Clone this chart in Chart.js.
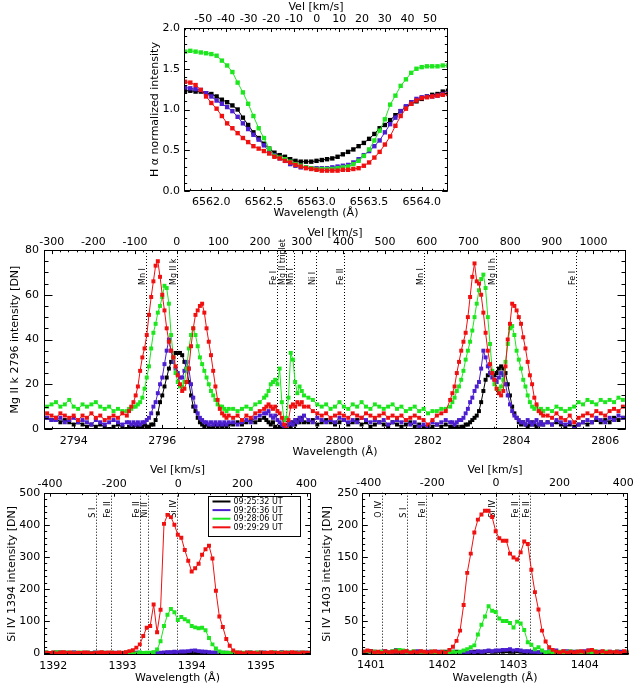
<!DOCTYPE html>
<html>
<head>
<meta charset="utf-8">
<title>H-alpha, Mg II and Si IV spectra</title>
<script src="https://cdn.jsdelivr.net/npm/chart.js@4.4.1/dist/chart.umd.min.js"></script>
<style>
  html, body { margin: 0; padding: 0; background: #ffffff; }
  #page { position: relative; width: 633px; height: 689px; overflow: hidden; }
  #page canvas { position: absolute; left: 0; top: 0; }
</style>
</head>
<body>
<div id="page">
  <canvas id="haChart" width="633" height="689"></canvas>
  <canvas id="mgChart" width="633" height="689"></canvas>
  <canvas id="si1Chart" width="633" height="689"></canvas>
  <canvas id="si2Chart" width="633" height="689"></canvas>
</div>
<script>
// ---- series (same four times in every panel) ----
const seriesNames = ['09:25:32 UT', '09:26:36 UT', '09:28:06 UT', '09:29:29 UT'];
const seriesColors = ['#000000', '#4b1ecf', '#1ee61e', '#f01010'];

// ---- H alpha ----
const haWave = [6561.75, 6561.80, 6561.85, 6561.90, 6561.95, 6562.00, 6562.05, 6562.10, 6562.15, 6562.20,
  6562.25, 6562.30, 6562.35, 6562.40, 6562.45, 6562.50, 6562.55, 6562.60, 6562.65, 6562.70,
  6562.75, 6562.80, 6562.85, 6562.90, 6562.95, 6563.00, 6563.05, 6563.10, 6563.15, 6563.20,
  6563.25, 6563.30, 6563.35, 6563.40, 6563.45, 6563.50, 6563.55, 6563.60, 6563.65, 6563.70,
  6563.75, 6563.80, 6563.85, 6563.90, 6563.95, 6564.00, 6564.05, 6564.10, 6564.15, 6564.20, 6564.25];
const haBlack = [1.23, 1.23, 1.22, 1.22, 1.20, 1.19, 1.16, 1.12, 1.09, 1.05, 1.00, 0.90, 0.81, 0.72, 0.65, 0.58, 0.52,
  0.47, 0.44, 0.42, 0.39, 0.37, 0.36, 0.36, 0.36, 0.37, 0.38, 0.39, 0.40, 0.42, 0.45, 0.48, 0.51, 0.55,
  0.59, 0.64, 0.70, 0.77, 0.81, 0.87, 0.93, 0.98, 1.03, 1.07, 1.10, 1.13, 1.16, 1.18, 1.19, 1.22, 1.23];
const haBlue = [1.27, 1.26, 1.25, 1.24, 1.20, 1.16, 1.11, 1.07, 1.03, 0.98, 0.91, 0.83, 0.76, 0.69, 0.63, 0.56, 0.49,
  0.44, 0.40, 0.37, 0.33, 0.31, 0.29, 0.29, 0.28, 0.28, 0.28, 0.28, 0.29, 0.30, 0.31, 0.32, 0.35, 0.39,
  0.44, 0.49, 0.55, 0.62, 0.72, 0.82, 0.90, 0.98, 1.04, 1.09, 1.13, 1.15, 1.16, 1.16, 1.17, 1.19, 1.20];
const haGreen = [1.71, 1.72, 1.71, 1.70, 1.69, 1.68, 1.66, 1.60, 1.54, 1.46, 1.33, 1.21, 1.07, 0.92, 0.77, 0.65, 0.52,
  0.43, 0.41, 0.39, 0.36, 0.33, 0.31, 0.29, 0.28, 0.27, 0.27, 0.27, 0.27, 0.28, 0.29, 0.30, 0.33, 0.37,
  0.43, 0.51, 0.62, 0.74, 0.88, 1.06, 1.17, 1.29, 1.37, 1.45, 1.50, 1.52, 1.53, 1.53, 1.53, 1.54, 1.54];
const haRed = [1.34, 1.33, 1.30, 1.24, 1.16, 1.08, 1.01, 0.92, 0.83, 0.77, 0.71, 0.65, 0.60, 0.55, 0.52, 0.49, 0.46,
  0.42, 0.40, 0.37, 0.35, 0.32, 0.30, 0.28, 0.27, 0.26, 0.25, 0.25, 0.25, 0.25, 0.26, 0.26, 0.27, 0.28,
  0.31, 0.35, 0.41, 0.48, 0.57, 0.67, 0.80, 0.92, 1.01, 1.07, 1.11, 1.14, 1.15, 1.16, 1.17, 1.18, 1.19];
const haTicks = [6562.0, 6562.5, 6563.0, 6563.5, 6564.0];
const haVelTicks = [-50, -40, -30, -20, -10, 0, 10, 20, 30, 40, 50];
const haYTicks = [0, 0.5, 1.0, 1.5, 2.0];

// ---- Mg II h & k ----
const mgWave = [2793.4, 2793.5, 2793.6, 2793.7, 2793.8, 2793.9, 2794.0, 2794.1, 2794.2, 2794.3,
  2794.4, 2794.5, 2794.6, 2794.7, 2794.8, 2794.9, 2795.0, 2795.1, 2795.2,
  2795.25, 2795.30, 2795.35, 2795.40, 2795.45, 2795.50, 2795.55, 2795.60, 2795.65, 2795.70,
  2795.75, 2795.80, 2795.85, 2795.90, 2795.95, 2796.00, 2796.05, 2796.10, 2796.15, 2796.20,
  2796.25, 2796.30, 2796.35, 2796.40, 2796.45, 2796.50, 2796.55, 2796.60, 2796.65, 2796.70,
  2796.75, 2796.80, 2796.85, 2796.90, 2796.95, 2797.00, 2797.05, 2797.10, 2797.15, 2797.20,
  2797.25, 2797.30, 2797.35, 2797.40, 2797.45, 2797.50,
  2797.6, 2797.7, 2797.8, 2797.9, 2798.0, 2798.1, 2798.2, 2798.3,
  2798.35, 2798.40, 2798.45, 2798.50, 2798.55, 2798.60, 2798.65, 2798.70, 2798.75, 2798.80,
  2798.85, 2798.90, 2798.95, 2799.00, 2799.05, 2799.10, 2799.15, 2799.20,
  2799.3, 2799.4, 2799.5, 2799.6, 2799.7, 2799.8, 2799.9, 2800.0, 2800.1, 2800.2,
  2800.3, 2800.4, 2800.5, 2800.6, 2800.7, 2800.8, 2800.9, 2801.0, 2801.1, 2801.2,
  2801.3, 2801.4, 2801.5, 2801.6, 2801.7, 2801.8, 2801.9, 2802.0, 2802.1, 2802.2,
  2802.3, 2802.4, 2802.5,
  2802.55, 2802.60, 2802.65, 2802.70, 2802.75, 2802.80, 2802.85, 2802.90, 2802.95, 2803.00,
  2803.05, 2803.10, 2803.15, 2803.20, 2803.25, 2803.30, 2803.35, 2803.40, 2803.45, 2803.50,
  2803.55, 2803.60, 2803.65, 2803.70, 2803.75, 2803.80, 2803.85, 2803.90, 2803.95, 2804.00,
  2804.05, 2804.10, 2804.15, 2804.20, 2804.25, 2804.30, 2804.35, 2804.40, 2804.45, 2804.50,
  2804.55, 2804.60,
  2804.7, 2804.8, 2804.9, 2805.0, 2805.1, 2805.2, 2805.3, 2805.4, 2805.5, 2805.6,
  2805.7, 2805.8, 2805.9, 2806.0, 2806.1, 2806.2, 2806.3, 2806.4];
const mgBlack = [5, 4, 5, 3, 4, 3, 2, 3, 2, 1, 2, 1, 2, 1, 0, 1, 2, 1, 0,
  1, 0, 1, 2, 1, 0, 1, 2, 1, 1, 2, 2, 4, 7, 12, 15, 19, 23, 27, 30, 32, 34, 34, 34, 33,
  30, 27, 21, 15, 10, 8, 5, 3, 2, 1, 2, 1, 0, 1, 2, 1, 2, 1, 2, 1, 2,
  2, 3, 2, 3, 4, 3, 4, 5,
  4, 3, 2, 3, 1, 0, 1, 0, 1, 0, 2, 1, 3, 2, 4, 3, 5, 3,
  3, 4, 2, 3, 4, 3, 2, 3, 4, 2, 3, 4, 2, 3, 1, 2, 3, 2, 1, 3, 2, 1, 2, 3, 1, 2, 1, 0, 1, 2, 1, 2, 1,
  1, 0, 1, 0, 1, 1, 2, 2, 3, 4, 5, 6, 8, 12, 17, 22, 24, 25, 25, 24, 25, 27, 28, 27, 25,
  20, 15, 10, 7, 5, 3, 2, 3, 2, 1, 2, 3, 2, 1, 2, 3, 2,
  3, 2, 3, 2, 1, 2, 1, 2, 3, 2, 3, 4, 3, 4, 3, 5, 4, 5];
const mgBlue = [5, 4, 4, 5, 3, 4, 5, 3, 4, 3, 2, 4, 3, 2, 3, 4, 3, 2, 3,
  3, 2, 3, 2, 3, 2, 3, 3, 4, 5, 7, 10, 12, 16, 20, 23, 29, 35, 40, 35, 30, 27, 25, 23, 23,
  26, 30, 27, 20, 14, 10, 7, 5, 4, 3, 3, 2, 3, 2, 3, 2, 3, 2, 3, 2, 3,
  3, 2, 3, 4, 3, 5, 6, 7,
  7, 8, 6, 5, 6, 4, 3, 2, 1, 0, 2, 3, 2, 4, 3, 5, 4, 6,
  4, 3, 5, 4, 3, 4, 3, 5, 4, 3, 4, 3, 5, 4, 3, 4, 3, 4, 2, 3, 4, 3, 4, 2, 3, 1, 2, 1, 3, 2, 3, 4, 3,
  3, 2, 3, 4, 4, 5, 7, 9, 12, 14, 17, 19, 21, 27, 35, 32, 28, 25, 23, 22, 21, 23, 25, 24, 20,
  15, 11, 8, 6, 5, 4, 3, 3, 2, 4, 3, 2, 3, 4, 2, 3, 2,
  3, 2, 4, 3, 2, 3, 0, 2, 3, 4, 3, 5, 4, 3, 5, 4, 6, 5];
const mgGreen = [10, 11, 12, 10, 11, 13, 10, 9, 11, 10, 11, 12, 10, 9, 10, 8, 9, 8, 8,
  9, 9, 10, 10, 11, 12, 14, 18, 23, 28, 36, 43, 47, 52, 55, 59, 64, 63, 56, 42, 32, 25, 21, 19, 19,
  21, 27, 36, 42, 45, 42, 37, 32, 29, 26, 23, 20, 17, 15, 13, 11, 10, 10, 9, 8, 9,
  9, 8, 9, 10, 9, 11, 12, 14,
  15, 17, 20, 21, 22, 20, 27, 12, 4, 5, 14, 34, 31, 21, 16, 19, 17, 15,
  14, 13, 11, 10, 11, 9, 10, 12, 10, 9, 11, 10, 12, 10, 9, 11, 10, 9, 10, 11, 9, 10, 8, 9, 10, 8, 9, 7, 8, 8, 9, 9, 10,
  12, 14, 17, 19, 22, 26, 31, 35, 39, 44, 50, 56, 62, 67, 69, 63, 50, 38, 26, 20, 18, 17, 19, 22, 30,
  38, 45, 46, 42, 35, 31, 27, 22, 19, 15, 12, 10, 9, 10, 8, 9, 8,
  9, 8, 10, 9, 8, 9, 10, 12, 11, 13, 12, 11, 13, 12, 13, 12, 14, 13];
const mgRed = [7, 6, 5, 7, 6, 5, 6, 4, 6, 5, 7, 5, 6, 4, 5, 6, 5, 7, 6,
  8, 10, 12, 15, 19, 26, 32, 36, 42, 51, 59, 66, 73, 75, 68, 60, 53, 45, 39, 35, 32, 28, 24, 20, 17,
  18, 21, 27, 37, 45, 51, 53, 55, 56, 52, 45, 39, 33, 26, 19, 13, 9, 7, 6, 5, 6,
  5, 6, 4, 6, 5, 7, 8, 9,
  10, 11, 10, 9, 10, 8, 7, 5, 2, 0, 4, 10, 11, 10, 12, 11, 12, 10,
  10, 8, 7, 6, 7, 5, 6, 7, 6, 5, 7, 6, 5, 7, 6, 5, 6, 7, 5, 6, 5, 6, 4, 5, 6, 5, 4, 2, 4, 6, 7, 8, 13,
  16, 19, 25, 30, 35, 39, 43, 50, 59, 68, 74, 66, 65, 60, 52, 43, 35, 29, 25, 22, 18, 16, 15, 17, 28,
  40, 47, 56, 55, 53, 50, 47, 41, 36, 30, 24, 20, 14, 11, 8, 7, 6,
  6, 5, 7, 5, 4, 6, 3, 5, 6, 7, 6, 8, 7, 6, 8, 9, 8, 10];
const mgTicks = [2794, 2796, 2798, 2800, 2802, 2804, 2806];
const mgVelTicks = [-300, -200, -100, 0, 100, 200, 300, 400, 500, 600, 700, 800, 900, 1000];
const mgYTicks = [0, 20, 40, 60, 80];
const mgLineWave = [2795.64, 2796.34, 2798.59, 2798.80, 2798.98, 2799.47, 2800.11, 2801.90, 2803.53, 2805.34];
const mgLineName = ['Mn I', 'Mg II k', 'Fe I', 'Mg II triplet', 'Mn I', 'Ni I', 'Fe II', 'Mn I', 'Mg II h', 'Fe I'];

// ---- Si IV 1394 ----
const si1Wave = [1391.90, 1391.95, 1392.00, 1392.05, 1392.10, 1392.15, 1392.20, 1392.25, 1392.30, 1392.35,
  1392.40, 1392.45, 1392.50, 1392.55, 1392.60, 1392.65, 1392.70, 1392.75, 1392.80, 1392.85,
  1392.90, 1392.95, 1393.00, 1393.05, 1393.10, 1393.15, 1393.20, 1393.25, 1393.30, 1393.35,
  1393.40, 1393.45, 1393.50, 1393.55, 1393.60, 1393.65, 1393.70, 1393.75, 1393.80, 1393.85,
  1393.90, 1393.95, 1394.00, 1394.05, 1394.10, 1394.15, 1394.20, 1394.25, 1394.30, 1394.35,
  1394.40, 1394.45, 1394.50, 1394.55, 1394.60, 1394.65, 1394.70, 1394.75, 1394.80, 1394.85,
  1394.90, 1394.95, 1395.00, 1395.05, 1395.10, 1395.15, 1395.20, 1395.25, 1395.30, 1395.35,
  1395.40, 1395.45, 1395.50, 1395.55, 1395.60, 1395.65, 1395.70];
const si1Black = [2, 1, 0, 1, 3, 2, 1, 0, 2, 1, 0, 1, 2, 1, 0, 2, 1, 0, 1, 2,
  1, 0, 1, 2, 0, 1, 2, 1, 0, 1, 0, 1, 2, 1, 1, 2, 2, 3, 2, 3,
  3, 4, 3, 4, 3, 2, 3, 2, 1, 2, 1, 0, 2, 1, 0, 1, 2, 0, 1, 3,
  1, 0, 2, 1, 0, 1, 2, 0, 3, 1, 0, 1, 2, 1, 0, 2, 1];
const si1Blue = [1, 0, 2, 3, 1, 0, 2, 1, 3, 0, 1, 2, 0, 1, 3, 1, 0, 2, 1, 0,
  2, 1, 0, 1, 2, 0, 1, 2, 1, 0, 1, 2, 1, 2, 3, 4, 4, 5, 4, 6,
  6, 7, 8, 9, 7, 6, 5, 4, 3, 2, 1, 2, 0, 1, 2, 0, 1, 0, 2, 1,
  0, 2, 1, 3, 1, 0, 2, 1, 3, 0, 2, 1, 0, 3, 1, 2, 0];
const si1Green = [3, 1, 2, 4, 2, 1, 3, 2, 0, 2, 3, 1, 2, 0, 2, 1, 3, 2, 1, 2,
  0, 2, 1, 3, 1, 2, 0, 3, 1, 2, 2, 4, 12, 38, 85, 120, 138, 128, 104, 113,
  106, 100, 85, 81, 78, 80, 72, 48, 28, 15, 6, 3, 1, 2, 0, 3, 1, 2, 0, 2,
  1, 3, 0, 2, 1, 2, 3, 0, 2, 1, 3, 0, 2, 1, 3, 0, 2];
const si1Red = [2, 1, 3, 0, 2, 4, 1, 3, 0, 2, 1, 3, 2, 0, 1, 2, 4, 1, 3, 2,
  1, 3, 2, 4, 7, 10, 18, 28, 54, 80, 85, 152, 66, 136, 403, 431, 424, 400, 369, 360,
  322, 288, 255, 265, 279, 307, 324, 335, 295, 195, 115, 82, 45, 24, 9, 3, 2, 0, 3, 1,
  2, 0, 3, 1, 2, 4, 1, 2, 0, 3, 1, 4, 2, 0, 3, 1, 2];
const si1Ticks = [1392, 1393, 1394, 1395];
const si1YTicks = [0, 100, 200, 300, 400, 500];
const si1LineWave = [1392.62, 1392.84, 1393.25, 1393.37, 1393.79];
const si1LineName = ['S I', 'Fe II', 'Fe II', 'Ni II', 'Si IV'];

// ---- Si IV 1403 ----
const si2Wave = [1400.90, 1400.95, 1401.00, 1401.05, 1401.10, 1401.15, 1401.20, 1401.25, 1401.30, 1401.35,
  1401.40, 1401.45, 1401.50, 1401.55, 1401.60, 1401.65, 1401.70, 1401.75, 1401.80, 1401.85,
  1401.90, 1401.95, 1402.00, 1402.05, 1402.10, 1402.15, 1402.20, 1402.25, 1402.30, 1402.35,
  1402.40, 1402.45, 1402.50, 1402.55, 1402.60, 1402.65, 1402.70, 1402.75, 1402.80, 1402.85,
  1402.90, 1402.95, 1403.00, 1403.05, 1403.10, 1403.15, 1403.20, 1403.25, 1403.30, 1403.35,
  1403.40, 1403.45, 1403.50, 1403.55, 1403.60, 1403.65, 1403.70, 1403.75, 1403.80, 1403.85,
  1403.90, 1403.95, 1404.00, 1404.05, 1404.10, 1404.15, 1404.20, 1404.25, 1404.30, 1404.35,
  1404.40, 1404.45, 1404.50, 1404.55, 1404.60];
const si2Black = [2, 1, 3, 2, 0, 1, 2, 1, 0, 2, 1, 0, 2, 1, 0, 1, 2, 0, 1, 2,
  1, 0, 1, 2, 0, 1, 2, 0, 1, 2, 1, 2, 1, 2, 2, 3, 2, 2, 3, 2,
  3, 2, 2, 3, 2, 1, 2, 1, 0, 1, 2, 0, 1, 2, 1, 0, 2, 1, 0, 1,
  2, 1, 0, 1, 2, 0, 1, 2, 1, 0, 1, 2, 0, 1, 0];
const si2Blue = [0, 1, 2, 0, 1, 2, 3, 1, 2, 5, 3, 1, 2, 0, 1, 3, 1, 0, 2, 1,
  0, 2, 1, 0, 1, 2, 0, 1, 2, 1, 2, 1, 3, 2, 3, 4, 3, 4, 4, 5,
  5, 6, 4, 5, 4, 3, 3, 2, 2, 1, 2, 1, 3, 2, 4, 1, 2, 3, 1, 2,
  0, 2, 3, 4, 2, 1, 2, 0, 1, 2, 1, 0, 2, 1, 2];
const si2Green = [1, 3, 0, 2, 1, 2, 0, 1, 3, 4, 5, 4, 2, 1, 3, 0, 2, 1, 0, 2,
  1, 0, 2, 1, 0, 2, 1, 2, 4, 6, 9, 12, 29, 44, 57, 73, 66, 64, 54, 50,
  50, 47, 40, 49, 46, 36, 17, 13, 6, 9, 4, 1, 2, 0, 1, 2, 0, 1, 3, 0,
  2, 1, 0, 2, 1, 3, 0, 1, 2, 0, 1, 2, 0, 1, 2];
const si2Red = [2, 4, 3, 1, 2, 0, 3, 1, 2, 3, 1, 2, 3, 0, 2, 1, 3, 2, 1, 2,
  3, 1, 2, 0, 5, 10, 19, 35, 75, 125, 155, 188, 208, 216, 222, 222, 212, 190, 179, 175,
  175, 155, 149, 146, 157, 174, 170, 130, 95, 68, 35, 18, 9, 5, 2, 1, 3, 0, 2, 1,
  2, 3, 1, 4, 5, 2, 1, 3, 0, 2, 1, 2, 0, 3, 1];
const si2Ticks = [1401, 1402, 1403, 1404];
const si2YTicks = [0, 50, 100, 150, 200, 250];
const siVelTicks = [-400, -200, 0, 200, 400];
const si2LineWave = [1401.16, 1401.51, 1401.77, 1402.75, 1403.07, 1403.23];
const si2LineName = ['O IV', 'S I', 'Fe II', 'Si IV', 'Fe II', 'Fe II'];

const FONT = "'DejaVu Sans', Verdana, sans-serif";
Chart.defaults.font.family = FONT;
Chart.defaults.font.size = 11;
Chart.defaults.color = '#000';

// frame, inward ticks, dotted line ids and legend, IDL style
const idlFrame = {
  id: 'idlFrame',
  beforeDatasetsDraw(chart, args, o) {
    if (!o.lineWave) return;
    const { ctx, chartArea: a } = chart;
    const sx = chart.scales.x;
    ctx.save();
    ctx.strokeStyle = '#000';
    ctx.lineWidth = 1;
    ctx.setLineDash([1, 2]);
    ctx.fillStyle = '#000';
    ctx.font = '8px ' + FONT;
    o.lineWave.forEach((w, i) => {
      const x = Math.round(sx.getPixelForValue(w)) + 0.5;
      ctx.beginPath();
      ctx.moveTo(x, a.top);
      ctx.lineTo(x, a.bottom);
      ctx.stroke();
      ctx.save();
      ctx.translate(x - 1.5, a.top + o.labelY);
      ctx.rotate(-Math.PI / 2);
      ctx.fillText(o.lineName[i], 0, 0);
      ctx.restore();
    });
    ctx.restore();
  },
  afterDatasetsDraw(chart, args, o) {
    const { ctx, chartArea: a, scales } = chart;
    const L = Math.round(a.left) + 0.5, R = Math.round(a.right) - 0.5;
    const T = Math.round(a.top) + 0.5, B = Math.round(a.bottom) - 0.5;
    const minors = (s, step) => {
      const out = [];
      for (let k = Math.ceil(s.min / step - 1e-9); k * step <= s.max + 1e-9; k++) out.push(k * step);
      return out;
    };
    const majors = s => s.ticks.map(t => t.value);
    ctx.save();
    ctx.strokeStyle = '#000';
    ctx.lineWidth = 1;
    ctx.setLineDash([]);
    ctx.beginPath();
    const hTicks = (s, vals, y, len) => vals.forEach(v => {
      const x = Math.round(s.getPixelForValue(v)) + 0.5;
      ctx.moveTo(x, y); ctx.lineTo(x, y + len);
    });
    const vTicks = (s, vals, len) => vals.forEach(v => {
      const y = Math.round(s.getPixelForValue(v)) + 0.5;
      ctx.moveTo(L, y); ctx.lineTo(L + len, y);
      ctx.moveTo(R, y); ctx.lineTo(R - len, y);
    });
    hTicks(scales.x, majors(scales.x), B, -o.xLen);
    hTicks(scales.x, minors(scales.x, o.xMinor), B, -o.xLen / 2);
    hTicks(scales.xTop, majors(scales.xTop), T, o.xLen);
    hTicks(scales.xTop, minors(scales.xTop, o.vMinor), T, o.xLen / 2);
    vTicks(scales.y, majors(scales.y), o.yLen);
    vTicks(scales.y, minors(scales.y, o.yMinor), o.yLen / 2);
    ctx.stroke();
    ctx.strokeRect(L, T, R - L, B - T);

    if (o.legend) {
      const bx = Math.round(a.right) - 103 + 0.5, by = Math.round(a.top) + 3 + 0.5;
      ctx.fillStyle = '#fff';
      ctx.fillRect(bx, by, 92, 40);
      ctx.strokeRect(bx, by, 92, 40);
      ctx.font = '8px ' + FONT;
      ctx.textBaseline = 'middle';
      chart.data.datasets.forEach((d, i) => {
        const y = by + 5 + i * 8.6;
        ctx.strokeStyle = d.borderColor;
        ctx.lineWidth = 2;
        ctx.beginPath();
        ctx.moveTo(bx + 4, y);
        ctx.lineTo(bx + 22, y);
        ctx.stroke();
        ctx.fillStyle = '#000';
        ctx.fillText(d.label, bx + 25, y + 0.5);
      });
    }
    ctx.restore();
  }
};

function buildPanel(id, p) {
  const lh = 13.2;
  const pl = p.plot;
  const leftBox = p.yTitleX - lh / 2;
  const topBox = p.topTitleY - lh / 2;
  const leftW = pl.l - leftBox;
  const topH = pl.t - topBox;
  const botH = p.botTitleY + lh / 2 - pl.b;
  const topPad = pl.t - p.topLabelY - lh / 2;
  const botPad = p.botLabelY - pl.b - lh / 2;

  const datasets = p.series.map((vals, i) => ({
    label: seriesNames[i],
    data: p.wave.map((w, k) => ({ x: w, y: vals[k] })),
    borderColor: seriesColors[i],
    backgroundColor: seriesColors[i],
    borderWidth: 1,
    pointStyle: 'rect',
    pointRadius: p.radius,
    pointBorderWidth: 0,
    tension: 0,
    order: seriesNames.length - i
  }));

  const fixTicks = list => s => { s.ticks = list.map(v => ({ value: v })); };
  const noGrid = { display: false, drawTicks: false };

  new Chart(document.getElementById(id), {
    type: 'line',
    data: { datasets },
    options: {
      responsive: false,
      animation: false,
      events: [],
      layout: { padding: { left: leftBox, top: topBox, right: 633 - pl.r, bottom: 689 - pl.b - botH } },
      plugins: {
        legend: { display: false },
        tooltip: { enabled: false },
        idlFrame: {
          xMinor: p.xMinor, vMinor: p.vMinor, yMinor: p.yMinor,
          xLen: p.xLen, yLen: p.yLen,
          lineWave: p.lineWave, lineName: p.lineName, labelY: p.labelY,
          legend: p.legend
        }
      },
      scales: {
        x: {
          type: 'linear', position: 'bottom', bounds: 'data', min: p.xMin, max: p.xMax,
          afterBuildTicks: fixTicks(p.xTicks),
          afterFit: s => { s.height = botH; s.paddingLeft = 0; s.paddingRight = 0; },
          grid: noGrid, border: { display: false },
          ticks: { padding: botPad, maxRotation: 0, autoSkip: false, color: '#000',
                   callback: v => p.xFmt ? v.toFixed(p.xFmt) : String(v) },
          title: { display: true, text: 'Wavelength (Å)', color: '#000', padding: 0 }
        },
        xTop: {
          type: 'linear', position: 'top', bounds: 'data', min: p.vMin, max: p.vMax,
          afterBuildTicks: fixTicks(p.vTicks),
          afterFit: s => { s.height = topH; s.paddingLeft = 0; s.paddingRight = 0; },
          grid: noGrid, border: { display: false },
          ticks: { padding: topPad, maxRotation: 0, autoSkip: false, color: '#000', callback: v => String(v) },
          title: { display: true, text: 'Vel [km/s]', color: '#000', padding: 0 }
        },
        y: {
          type: 'linear', position: 'left', bounds: 'data', min: p.yMin, max: p.yMax,
          afterBuildTicks: fixTicks(p.yTicks),
          afterFit: s => { s.width = leftW; s.paddingTop = 0; s.paddingBottom = 0; },
          grid: noGrid, border: { display: false },
          ticks: { padding: p.yPad, autoSkip: false, color: '#000',
                   callback: v => p.yFmt ? v.toFixed(p.yFmt) : String(v) },
          title: { display: true, text: p.yTitle, color: '#000', padding: 0 }
        }
      }
    },
    plugins: [idlFrame]
  });
}

buildPanel('haChart', {
  wave: haWave, series: [haBlack, haBlue, haGreen, haRed], radius: 3.1,
  xMin: 6561.74, xMax: 6564.25, xTicks: haTicks, xFmt: 1, xMinor: 0.1,
  vMin: -58.5, vMax: 57.9, vTicks: haVelTicks, vMinor: 2,
  yMin: 0, yMax: 2, yTicks: haYTicks, yFmt: 1, yMinor: 0.1, yPad: 4,
  yTitle: 'H α normalized intensity',
  plot: { l: 184, r: 448, t: 28, b: 191 },
  yTitleX: 155, topTitleY: 6.7, topLabelY: 19, botLabelY: 201.7, botTitleY: 213,
  xLen: 3.5, yLen: 5.3
});

buildPanel('mgChart', {
  wave: mgWave, series: [mgBlack, mgBlue, mgGreen, mgRed], radius: 2.8,
  xMin: 2793.33, xMax: 2806.47, xTicks: mgTicks, xMinor: 0.5,
  vMin: -318.5, vMax: 1078, vTicks: mgVelTicks, vMinor: 20,
  yMin: 0, yMax: 80, yTicks: mgYTicks, yMinor: 5, yPad: 5,
  yTitle: 'Mg II k 2796 intensity [DN]',
  plot: { l: 44, r: 626, t: 250, b: 429 },
  yTitleX: 15, topTitleY: 233, topLabelY: 242, botLabelY: 441, botTitleY: 452.3,
  xLen: 3.6, yLen: 8,
  lineWave: mgLineWave, lineName: mgLineName, labelY: 35
});

buildPanel('si1Chart', {
  wave: si1Wave, series: [si1Black, si1Blue, si1Green, si1Red], radius: 2.8,
  xMin: 1391.87, xMax: 1395.72, xTicks: si1Ticks, xMinor: 0.2,
  vMin: -418, vMax: 413, vTicks: siVelTicks, vMinor: 50,
  yMin: -5, yMax: 500, yTicks: si1YTicks, yMinor: 20, yPad: 4,
  yTitle: 'Si IV 1394 intensity [DN]',
  plot: { l: 44.3, r: 310.7, t: 492.7, b: 655 },
  yTitleX: 12, topTitleY: 470, topLabelY: 484.3, botLabelY: 665.7, botTitleY: 678.3,
  xLen: 3.2, yLen: 5.3,
  lineWave: si1LineWave, lineName: si1LineName, labelY: 25,
  legend: true
});

buildPanel('si2Chart', {
  wave: si2Wave, series: [si2Black, si2Blue, si2Green, si2Red], radius: 2.8,
  xMin: 1400.87, xMax: 1404.61, xTicks: si2Ticks, xMinor: 0.2,
  vMin: -422, vMax: 416, vTicks: siVelTicks, vMinor: 50,
  yMin: -3, yMax: 250, yTicks: si2YTicks, yMinor: 10, yPad: 3.5,
  yTitle: 'Si IV 1403 intensity [DN]',
  plot: { l: 361.7, r: 628.3, t: 492.7, b: 655 },
  yTitleX: 327.5, topTitleY: 470, topLabelY: 483.5, botLabelY: 665, botTitleY: 677.7,
  xLen: 3.2, yLen: 5.3,
  lineWave: si2LineWave, lineName: si2LineName, labelY: 25
});
</script>
</body>
</html>
